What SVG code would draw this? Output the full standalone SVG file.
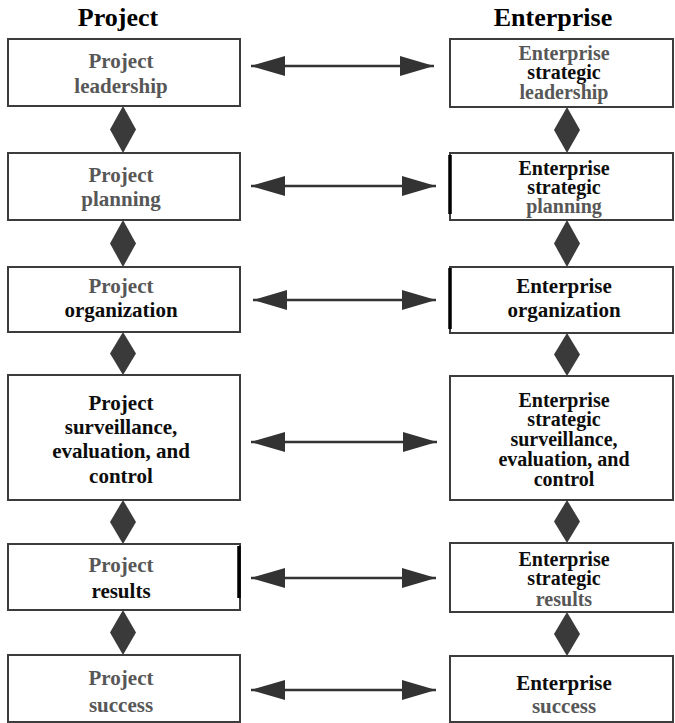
<svg xmlns="http://www.w3.org/2000/svg" width="675" height="723" viewBox="0 0 675 723">
  <style>
    .box { fill: #ffffff; stroke: #3c3c3c; stroke-width: 2; }
    .edge { stroke: #000000; stroke-width: 3.5; fill: none; }
    .hdr { font-family: "Liberation Serif", "Times New Roman", serif; font-weight: bold; font-size: 26px; fill: #000; text-anchor: middle; }
    .t { font-family: "Liberation Serif", "Times New Roman", serif; font-weight: bold; font-size: 21px; text-anchor: middle; }
    .s { font-size: 20px; }
    .g { fill: #575757; }
    .k { fill: #0d0d0d; }
    .link { stroke: #333333; stroke-width: 2.5; fill: none; }
    .dia { fill: #3a3a3a; }
  </style>
  <defs>
    <marker id="ah" viewBox="0 0 34 20" refX="34" refY="10" markerWidth="34" markerHeight="20" markerUnits="userSpaceOnUse" orient="auto-start-reverse">
      <path d="M0,0 L34,10 L0,20 Z" fill="#333333"/>
    </marker>
  </defs>
  <rect width="675" height="723" fill="#ffffff"/>

  <!-- column headers -->
  <text class="hdr" x="118" y="26">Project</text>
  <text class="hdr" x="553" y="26">Enterprise</text>

  <!-- connectors: diamonds between stacked boxes, double arrows between columns -->
  <g id="connectors">
    <polygon class="dia" points="123,106 136,129.5 123,153 110,129.5"/>
    <polygon class="dia" points="123,220 136,243.5 123,267 110,243.5"/>
    <polygon class="dia" points="123,332 136,353.5 123,375 110,353.5"/>
    <polygon class="dia" points="123,500 136,522 123,544 110,522"/>
    <polygon class="dia" points="123,610 136,632.5 123,655 110,632.5"/>

    <polygon class="dia" points="567,107 580,130 567,153 554,130"/>
    <polygon class="dia" points="567,220 580,243.5 567,267 554,243.5"/>
    <polygon class="dia" points="567,333 580,354.5 567,376 554,354.5"/>
    <polygon class="dia" points="567,500 580,521.5 567,543 554,521.5"/>
    <polygon class="dia" points="567,612 580,634 567,656 554,634"/>

    <line class="link" x1="251" y1="66" x2="434" y2="66" marker-start="url(#ah)" marker-end="url(#ah)"/>
    <line class="link" x1="251" y1="186" x2="436" y2="186" marker-start="url(#ah)" marker-end="url(#ah)"/>
    <line class="link" x1="253" y1="300" x2="436" y2="300" marker-start="url(#ah)" marker-end="url(#ah)"/>
    <line class="link" x1="251" y1="442" x2="437" y2="442" marker-start="url(#ah)" marker-end="url(#ah)"/>
    <line class="link" x1="251" y1="578" x2="436" y2="578" marker-start="url(#ah)" marker-end="url(#ah)"/>
    <line class="link" x1="251" y1="690" x2="436" y2="690" marker-start="url(#ah)" marker-end="url(#ah)"/>
  </g>

  <!-- project column -->
  <g id="project-leadership">
    <rect class="box" x="8" y="39" width="232" height="67"/>
    <text class="t g" x="121" y="68">Project</text>
    <text class="t g" x="121" y="93">leadership</text>
  </g>
  <g id="project-planning">
    <rect class="box" x="8" y="153" width="232" height="67"/>
    <text class="t g" x="121" y="182">Project</text>
    <text class="t g" x="121" y="206">planning</text>
  </g>
  <g id="project-organization">
    <rect class="box" x="8" y="267" width="232" height="65"/>
    <text class="t g" x="121" y="293">Project</text>
    <text class="t k" x="121" y="317">organization</text>
  </g>
  <g id="project-surveillance">
    <rect class="box" x="8" y="375" width="232" height="125"/>
    <text class="t k" x="121" y="410">Project</text>
    <text class="t k" x="121" y="434">surveillance,</text>
    <text class="t k" x="121" y="458">evaluation, and</text>
    <text class="t k" x="121" y="483">control</text>
  </g>
  <g id="project-results">
    <rect class="box" x="8" y="544" width="232" height="66"/>
    <line class="edge" x1="239" y1="546" x2="239" y2="598"/>
    <text class="t g" x="121" y="572">Project</text>
    <text class="t k" x="121" y="598">results</text>
  </g>
  <g id="project-success">
    <rect class="box" x="8" y="655" width="232" height="67"/>
    <text class="t g" x="121" y="685">Project</text>
    <text class="t g" x="121" y="712">success</text>
  </g>

  <!-- enterprise column -->
  <g id="enterprise-leadership">
    <rect class="box" x="450" y="39" width="223" height="68"/>
    <text class="t s g" x="564" y="60">Enterprise</text>
    <text class="t s k" x="564" y="79">strategic</text>
    <text class="t s g" x="564" y="99">leadership</text>
  </g>
  <g id="enterprise-planning">
    <rect class="box" x="450" y="153" width="223" height="67"/>
    <line class="edge" x1="450" y1="155" x2="450" y2="214"/>
    <text class="t s k" x="564" y="175">Enterprise</text>
    <text class="t s k" x="564" y="194">strategic</text>
    <text class="t s g" x="564" y="213">planning</text>
  </g>
  <g id="enterprise-organization">
    <rect class="box" x="450" y="267" width="223" height="66"/>
    <line class="edge" x1="450" y1="268" x2="450" y2="329"/>
    <text class="t k" x="564" y="293">Enterprise</text>
    <text class="t k" x="564" y="317">organization</text>
  </g>
  <g id="enterprise-surveillance">
    <rect class="box" x="450" y="376" width="223" height="124"/>
    <text class="t s k" x="564" y="407">Enterprise</text>
    <text class="t s k" x="564" y="426">strategic</text>
    <text class="t s k" x="564" y="446">surveillance,</text>
    <text class="t s k" x="564" y="466">evaluation, and</text>
    <text class="t s k" x="564" y="486">control</text>
  </g>
  <g id="enterprise-results">
    <rect class="box" x="450" y="543" width="223" height="69"/>
    <text class="t s k" x="564" y="566">Enterprise</text>
    <text class="t s k" x="564" y="585">strategic</text>
    <text class="t s g" x="564" y="606">results</text>
  </g>
  <g id="enterprise-success">
    <rect class="box" x="450" y="656" width="223" height="66"/>
    <text class="t k" x="564" y="690">Enterprise</text>
    <text class="t g" x="564" y="713">success</text>
  </g>
</svg>
